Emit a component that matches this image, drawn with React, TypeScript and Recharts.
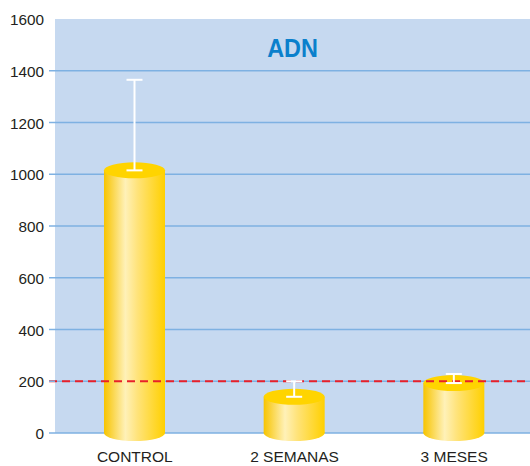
import React from "react";
import {
  ComposedChart,
  Bar,
  XAxis,
  YAxis,
  CartesianGrid,
  ReferenceLine,
  ErrorBar,
} from "recharts";

const categories = ["CONTROL", "2 SEMANAS", "3 MESES"];
const means = [1015, 140, 193];
const upperErrors = [350, 60, 35];
const yTicks = [0, 200, 400, 600, 800, 1000, 1200, 1400, 1600];
const gridValues = [0, 200, 400, 600, 800, 1000, 1200, 1400];
const limitValue = 200;
const yMax = 1600;

const data = categories.map((name, i) => ({
  name,
  value: means[i],
  err: [0, upperErrors[i]],
}));

const FONT = "'Liberation Sans', Arial, sans-serif";
const GRID = "#7eb1e2";

function Cylinder(props: any) {
  const { x, y, width, height } = props;
  const cx = x + width / 2;
  const rx = width / 2;
  const ry = 8;
  return (
    <g>
      <ellipse cx={cx} cy={y + height} rx={rx} ry={ry} fill="url(#cylGrad)" />
      <rect x={x} y={y} width={width} height={height} fill="url(#cylGrad)" />
      <ellipse cx={cx} cy={y} rx={rx} ry={ry} fill="#ffd400" />
    </g>
  );
}

function YTick(props: any) {
  const { x, y, payload } = props;
  return (
    <g>
      {payload.value !== yMax && (
        <line x1={x + 5} x2={x + 11} y1={y} y2={y} stroke={GRID} strokeWidth={1.5} />
      )}
      <text x={x} y={y} dy={6} textAnchor="end" fontSize={15.3} fill="#231f20" fontFamily={FONT}>
        {payload.value}
      </text>
    </g>
  );
}

function DashedLimit(props: any) {
  const { x1, x2, y1 } = props;
  return (
    <line
      x1={x1 - 6}
      x2={x2}
      y1={y1}
      y2={y1}
      stroke="#e8202a"
      strokeWidth={2}
      strokeDasharray="8 5"
    />
  );
}

// grid lines at every tick except the top one
function gridYs({ yAxis, offset }: any) {
  if (yAxis && typeof yAxis.scale === "function") {
    return gridValues.map((v) => yAxis.scale(v));
  }
  return gridValues.map((v) => offset.top + offset.height * (1 - v / yMax));
}

export default function App() {
  return (
    <div style={{ position: "relative", width: 530, height: 466, background: "#fff", overflow: "hidden" }}>
      <style>{`body{margin:0}`}</style>
      <ComposedChart
        width={534}
        height={466}
        data={data}
        margin={{ top: 19, right: 0, bottom: 0, left: 0 }}
      >
        <defs>
          <linearGradient id="cylGrad" x1="0" y1="0" x2="1" y2="0">
            <stop offset="0%" stopColor="#f7c400" />
            <stop offset="35%" stopColor="#fff1b8" />
            <stop offset="55%" stopColor="#ffe37a" />
            <stop offset="100%" stopColor="#ffd000" />
          </linearGradient>
        </defs>
        <CartesianGrid
          vertical={false}
          fill="#c6d9f0"
          fillOpacity={1}
          stroke={GRID}
          strokeWidth={1.5}
          horizontalCoordinatesGenerator={gridYs}
        />
        <XAxis
          dataKey="name"
          axisLine={false}
          tickLine={false}
          tickSize={0}
          tickMargin={18}
          height={33}
          tick={{ fontSize: 15.5, fill: "#231f20", fontFamily: FONT }}
        />
        <YAxis
          domain={[0, yMax]}
          ticks={yTicks}
          width={55}
          axisLine={false}
          tickLine={false}
          tickSize={6}
          tickMargin={5}
          tick={<YTick />}
          interval={0}
        />
        <ReferenceLine y={limitValue} shape={<DashedLimit />} />
        <Bar dataKey="value" barSize={61} shape={<Cylinder />} isAnimationActive={false}>
          <ErrorBar dataKey="err" width={8} stroke="#ffffff" strokeWidth={2} />
        </Bar>
      </ComposedChart>
      <div
        style={{
          position: "absolute",
          left: 55,
          width: 475,
          top: 33,
          textAlign: "center",
          fontFamily: FONT,
          fontWeight: 700,
          fontSize: 26,
          color: "#0a80cc",
          transform: "scaleX(0.9)",
          lineHeight: "30px",
        }}
      >
        ADN
      </div>
    </div>
  );
}
